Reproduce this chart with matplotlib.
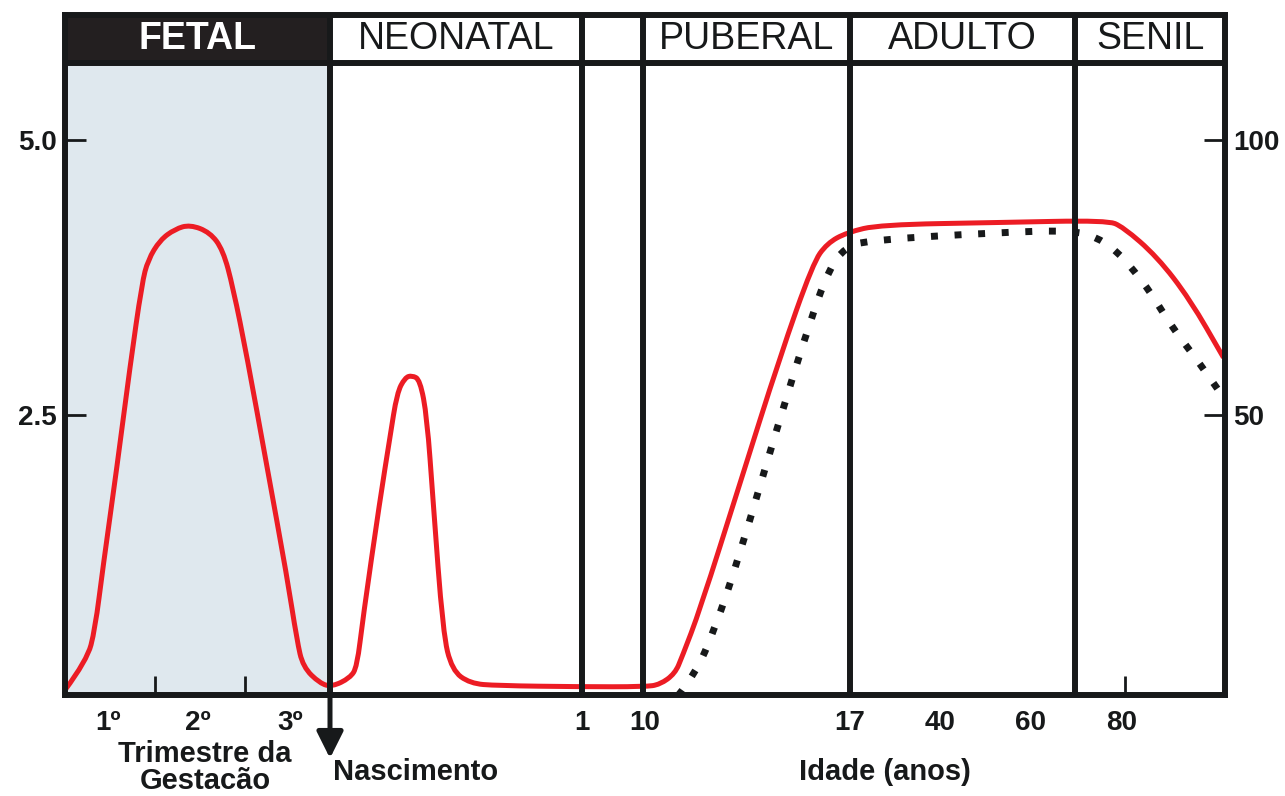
import matplotlib
matplotlib.use("Agg")
import matplotlib.pyplot as plt
from matplotlib.patches import Rectangle, PathPatch
from matplotlib.path import Path

# schematic x positions (arbitrary units along the age axis) and levels (left scale)
red_x = [0, 2.2, 3.0, 3.8, 5.2, 6.5, 7.7, 8.3, 9.5, 11.0, 12.5, 14.5, 15.8, 16.8,
         18.2, 20.2, 22.2, 23.2, 23.8, 25.5, 26.7, 28.5, 29.2, 29.8, 31.5, 32.5,
         33.2, 34.0, 34.7, 35.5, 36.2, 36.8, 37.8, 38.7, 40.5, 43.2, 51.5, 58.0,
         59.5, 61.0, 61.7, 63.5, 67.5, 71.5, 74.8, 76.2, 78.2, 81.5, 93.5, 104.2,
         105.8, 109.2, 112.5, 115.8]
red_y = [0, 0.27, 0.55, 1.12, 2.03, 2.94, 3.70, 3.91, 4.09, 4.19, 4.23, 4.16, 4.0,
         3.66, 3.03, 2.03, 1.03, 0.45, 0.21, 0.06, 0.03, 0.11, 0.21, 0.66, 1.73,
         2.30, 2.70, 2.84, 2.86, 2.82, 2.48, 1.73, 0.52, 0.18, 0.06, 0.04, 0.03,
         0.03, 0.05, 0.15, 0.30, 0.73, 1.88, 3.03, 3.88, 4.06, 4.16, 4.23, 4.25,
         4.27, 4.21, 3.94, 3.55, 3.03]

dot_x = [61.3, 63.0, 65.0, 67.4, 71.0, 74.7, 76.5, 78.0, 80.3, 93.5, 100.8, 103.3,
         105.3, 107.0, 108.5, 109.8, 111.2, 112.8, 114.3, 115.7]
dot_y = [-0.05, 0.14, 0.56, 1.21, 2.32, 3.41, 3.84, 4.02, 4.09, 4.16, 4.18, 4.11,
         3.98, 3.80, 3.62, 3.43, 3.24, 3.05, 2.86, 2.68]

dividers = [26.5, 51.7, 57.8, 78.5, 101.0]
phases = ["FETAL", "NEONATAL", "", "PUBERAL", "ADULTO", "SENIL"]
left_ticks = [2.5, 5.0]
right_ticks = [50, 100]
mark_ticks = [9, 18, 87.5, 96.5, 106]
label_pos = [4.3, 13.3, 22.5, 51.7, 58.0, 78.5, 87.5, 96.5, 105.7]
label_txt = ["1º", "2º", "3º", "1", "10", "17", "40", "60", "80"]

XMAX = 116.0
Y0, YHEAD, YTOP = -0.045, 5.70, 6.136
INK = "#17191a"
RED = "#ec1c24"
FONT = ["Liberation Sans", "DejaVu Sans"]


def smooth_path(xs, ys):
    # quadratic bezier through midpoints, so the corners come out rounded
    pts = list(zip(xs, ys))
    verts = [pts[0]]
    codes = [Path.MOVETO]
    for i in range(1, len(pts) - 1):
        mid = ((pts[i][0] + pts[i + 1][0]) / 2, (pts[i][1] + pts[i + 1][1]) / 2)
        verts += [pts[i], mid]
        codes += [Path.CURVE3, Path.CURVE3]
    verts.append(pts[-1])
    codes.append(Path.LINETO)
    return Path(verts, codes)


fig = plt.figure(figsize=(12.85, 7.96), dpi=100)
W, H = 1285.0, 796.0
ax = fig.add_axes([65 / W, 1 - 695 / H, 1160 / W, 680 / H])
ax.set_xlim(0, XMAX)
ax.set_ylim(Y0, YTOP)

# fetal background + header
ax.add_patch(Rectangle((0, Y0), dividers[0], YHEAD - Y0, color="#dfe8ee", zorder=0, lw=0))
ax.add_patch(Rectangle((0, YHEAD), dividers[0], YTOP - YHEAD, color="#231f20", zorder=1, lw=0))
ax.axhline(YHEAD, color=INK, lw=4.3, zorder=5)
for d in dividers:
    ax.axvline(d, color=INK, lw=4.3, zorder=5)

edges = [0] + dividers + [XMAX]
for i, name in enumerate(phases):
    cx = (edges[i] + edges[i + 1]) / 2
    if i == 0:
        ax.text(cx, (YHEAD + YTOP) / 2, name, color="white", fontsize=27, fontweight="bold",
                ha="center", va="center", family=FONT, zorder=6)
    else:
        ax.text(cx, (YHEAD + YTOP) / 2, name, color=INK, fontsize=27,
                ha="center", va="center", family=FONT, zorder=6)

ax.add_patch(PathPatch(smooth_path(red_x, red_y), fill=False, edgecolor=RED, lw=3.6,
                       capstyle="round", joinstyle="round", zorder=3))
ax.add_patch(PathPatch(smooth_path(dot_x, dot_y), fill=False, edgecolor=INK, lw=5,
                       linestyle=(0, (1, 2.4)), capstyle="butt", zorder=3))

for s in ax.spines.values():
    s.set_linewidth(4.3)
    s.set_color(INK)
    s.set_zorder(6)

ax.set_yticks(left_ticks)
ax.set_yticklabels(["2.5", "5.0"])
ax.tick_params(axis="y", direction="in", length=15, width=2, color=INK, pad=6, labelsize=20)
ax.set_xticks(label_pos)
ax.set_xticklabels(label_txt)
ax.set_xticks(mark_ticks, minor=True)
ax.tick_params(axis="x", which="major", length=0, pad=11, labelsize=20)
ax.tick_params(axis="x", which="minor", direction="in", length=14, width=2, color=INK)
for lab in ax.get_xticklabels() + ax.get_yticklabels():
    lab.set_family(FONT)
    lab.set_fontweight("bold")
    lab.set_color(INK)

ax2 = ax.twinx()
ax2.set_ylim(Y0 * 20, YTOP * 20)
ax2.set_yticks(right_ticks)
ax2.set_yticklabels(["50", "100"])
ax2.tick_params(axis="y", direction="in", length=15, width=2, color=INK, pad=6, labelsize=20)
for lab in ax2.get_yticklabels():
    lab.set_family(FONT)
    lab.set_fontweight("bold")
    lab.set_color(INK)
for s in ax2.spines.values():
    s.set_visible(False)

# birth arrow
ax.annotate("", xy=(dividers[0], -0.62), xytext=(dividers[0], Y0),
            arrowprops=dict(arrowstyle="-|>,head_length=0.8,head_width=0.4", lw=3.6,
                            color=INK, mutation_scale=20, shrinkA=0, shrinkB=0),
            annotation_clip=False)


def ftext(px, py, s, ha="center"):
    fig.text(px / W, 1 - py / H, s, ha=ha, va="center", fontsize=21,
             fontweight="bold", color=INK, family=FONT)


ftext(205, 754, "Trimestre da")
ftext(205, 781, "Gestacão")
ftext(333, 772, "Nascimento", ha="left")
ftext(885, 772, "Idade (anos)")

fig.savefig("out.png", dpi=100)
